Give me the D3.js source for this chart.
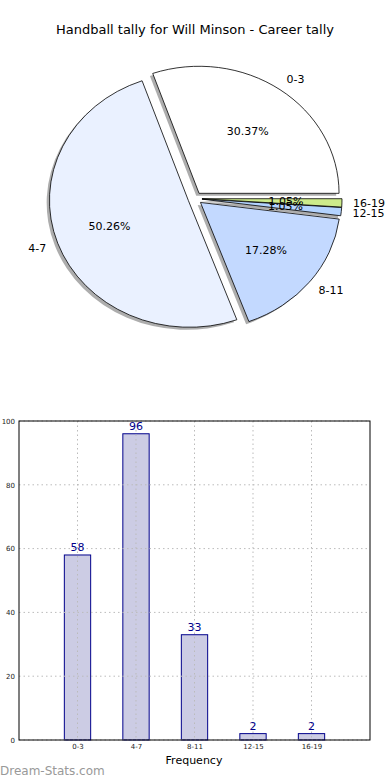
<!DOCTYPE html>
<html><head><meta charset="utf-8">
<script src="https://cdn.jsdelivr.net/npm/d3@7"></script>
<style>body{margin:0;background:#fff;} svg{display:block;font-family:"DejaVu Sans",sans-serif;}</style>
</head><body><svg id="c" width="390" height="780"></svg>
<script>
const categories = ["0-3","4-7","8-11","12-15","16-19"];
const values = [58,96,33,2,2];
const pieColors = ["#ffffff","#eaf1ff","#c3d9ff","#b3d3ff","#cdeb8b"];
const yTicks = [0,20,40,60,80,100];
const title = "Handball tally for Will Minson - Career tally";

const svg = d3.select("#c");
svg.append("text").attr("x",195).attr("y",34).attr("text-anchor","middle")
  .attr("font-size",13).text(title);

// ---- Pie (matplotlib style, counterclockwise from +x, elliptical) ----
const cx=195, cy=198.5, rx=140, ry=127, explode=0.05;
const total = d3.sum(values);
let acc=0;
const slices = values.map((v,i)=>{const a0=acc/total*2*Math.PI; acc+=v; const a1=acc/total*2*Math.PI; return {i,v,a0,a1,mid:(a0+a1)/2};});
const arc = d3.arc().innerRadius(0).outerRadius(1);
const pieG = svg.append("g");
slices.forEach(s=>{
  const ox = cx + explode*rx*Math.cos(s.mid) - 0.02*rx;
  const oy = cy - explode*ry*Math.sin(s.mid) + 0.02*ry;
  pieG.append("path")
    .attr("d", arc({startAngle:Math.PI/2-s.a0,endAngle:Math.PI/2-s.a1}))
    .attr("transform",`translate(${ox},${oy}) scale(${rx},${ry})`)
    .attr("fill","#999").attr("opacity",0.8);
});
slices.forEach(s=>{
  const ox = cx + explode*rx*Math.cos(s.mid);
  const oy = cy - explode*ry*Math.sin(s.mid);
  pieG.append("path")
    .attr("d", arc({startAngle:Math.PI/2-s.a0,endAngle:Math.PI/2-s.a1}))
    .attr("transform",`translate(${ox},${oy}) scale(${rx},${ry})`)
    .attr("fill",pieColors[s.i]).attr("stroke","#000").attr("stroke-width",0.8)
    .attr("vector-effect","non-scaling-stroke").attr("stroke-linejoin","round");
});
slices.forEach(s=>{
  const ox = cx + explode*rx*Math.cos(s.mid);
  const oy = cy - explode*ry*Math.sin(s.mid);
  const c=Math.cos(s.mid), sn=Math.sin(s.mid);
  pieG.append("text").attr("x",ox+0.6*rx*c).attr("y",oy-0.6*ry*sn).attr("dy","0.35em")
    .attr("text-anchor","middle").attr("font-size",11).attr("fill","#000")
    .text((s.v/total*100).toFixed(2)+"%");
  pieG.append("text").attr("x",ox+1.08*rx*c).attr("y",oy-1.1*ry*sn).attr("dy","0.35em")
    .attr("text-anchor",c>0?"start":"end").attr("font-size",11).attr("fill","#000")
    .text(categories[s.i]);
});

// ---- Bar chart ----
const L=19,R=370,T=421,B=740;
const x = d3.scaleLinear().domain([0,6]).range([L,R]);
const y = d3.scaleLinear().domain([0,100]).range([B,T]);
const bw = 0.45;
const g = svg.append("g");
g.selectAll("rect.bar").data(values).join("rect").attr("class","bar")
  .attr("x",(d,i)=>x(i+1-bw/2)).attr("width",x(bw)-x(0))
  .attr("y",d=>y(d)).attr("height",d=>y(0)-y(d))
  .attr("fill","#ccccE4").attr("stroke","#00008b").attr("stroke-width",1);
g.selectAll("line.gy").data(yTicks).join("line").attr("x1",L).attr("x2",R)
  .attr("y1",d=>y(d)).attr("y2",d=>y(d)).attr("stroke","#bbb").attr("stroke-dasharray","1.5,3");
g.selectAll("line.gx").data(categories).join("line").attr("y1",T).attr("y2",B)
  .attr("x1",(d,i)=>x(i+1)).attr("x2",(d,i)=>x(i+1)).attr("stroke","#bbb").attr("stroke-dasharray","1.5,3");
g.selectAll("text.val").data(values).join("text")
  .attr("x",(d,i)=>x(i+1)).attr("y",d=>y(d)-4).attr("text-anchor","middle")
  .attr("font-size",11).attr("fill","#00008b").text(d=>d);
g.append("rect").attr("x",L).attr("y",T).attr("width",R-L).attr("height",B-T)
  .attr("fill","none").attr("stroke","#000").attr("stroke-width",1);
const yAxis = d3.axisLeft(y).tickValues(yTicks).tickSize(0).tickPadding(4);
const ya = svg.append("g").attr("transform",`translate(${L},0)`).call(yAxis);
ya.select(".domain").remove();
ya.selectAll("text").attr("font-size",7).attr("font-family","DejaVu Sans").attr("fill","#222");
const xAxis = d3.axisBottom(x).tickValues([1,2,3,4,5]).tickFormat((d)=>categories[d-1]).tickSize(0).tickPadding(4);
const xa = svg.append("g").attr("transform",`translate(0,${B})`).call(xAxis);
xa.select(".domain").remove();
xa.selectAll("text").attr("font-size",7).attr("font-family","DejaVu Sans").attr("fill","#222");
svg.append("text").attr("x",194).attr("y",764).attr("text-anchor","middle").attr("font-size",11).text("Frequency");
svg.append("text").attr("x",0).attr("y",775).attr("font-size",12)
  .attr("fill","#999").text("Dream-Stats.com");
</script></body></html>
